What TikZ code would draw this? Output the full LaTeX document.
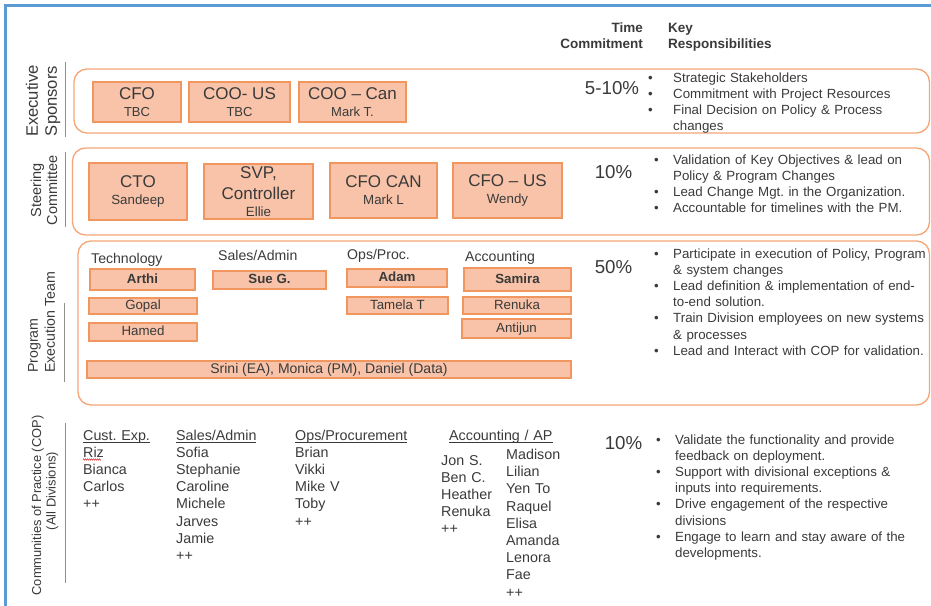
\documentclass[tikz,border=0pt]{standalone}
\usepackage{fontspec}
\setmainfont{Liberation Sans}
\usetikzlibrary{decorations.pathmorphing}

\definecolor{ink}{HTML}{3A3A3A}
\definecolor{framec}{HTML}{5B9BD5}
\definecolor{bandc}{HTML}{F4A677}
\definecolor{rolec}{HTML}{F29660}
\definecolor{rolefill}{HTML}{F8C3A8}
\definecolor{sepc}{HTML}{8E8E8E}
\definecolor{spellc}{HTML}{E23B3B}

\frenchspacing
\newcommand\fsz[2]{\fontsize{#1pt}{#2pt}\selectfont}
\newlength\bulind
\newcommand\bitem[1]{\hangindent=\bulind\hangafter=1\makebox[\bulind][l]{\textbullet}#1\par}
\newcommand\ulhead[1]{\setbox0=\hbox{#1}\rlap{\rule[-2.4pt]{\wd0}{0.8pt}}\box0}

\tikzset{
  band/.style={draw=bandc, line width=1.3pt, rounded corners=13pt},
  role/.style={draw=rolec, fill=rolefill, line width=1.1pt, text=ink,
    align=center, inner sep=0pt, font=\fsz{17}{17}},
  chip/.style={draw=rolec, fill=rolefill, line width=1.1pt, text=ink,
    inner sep=0pt, text height=10pt, text depth=3pt, font=\fsz{13.3}{16}},
  sidelbl/.style={rotate=90, text=ink, inner sep=0pt, align=center},
  sepline/.style={draw=sepc, line width=1pt},
  pct/.style={text=ink, font=\fsz{18.7}{20}, inner sep=0pt, anchor=base},
  hdr/.style={text=ink, font=\bfseries\fsz{13.5}{16}, inner sep=0pt,
    text width=120pt, align=#1},
  blist/.style={text=ink, font=\fsz{13.3}{16.2}, inner sep=0pt,
    text width=290pt, align=left, anchor=base west,
    execute at begin node={\setlength\bulind{#1}}},
  grp/.style={text=ink, font=\fsz{14.1}{17}, inner sep=0pt, anchor=base west},
  names/.style={text=ink, font=\fsz{14.3}{17.2}, inner sep=0pt, align=left,
    text width=110pt, anchor=base west},
}

\begin{document}
\begin{tikzpicture}[x=1pt, y=-1pt]
  \useasboundingbox (0,0) rectangle (931,605);
  \clip (0,0) rectangle (931,605);

  % outer frame
  \draw[framec, line width=2.4pt] (5.5,606) -- (5.5,5.5) -- (932,5.5);

  % column headings
  \node[hdr=right, anchor=base east] (hTime) at (643,32) {Time\\Commitment};
  \node[hdr=left, anchor=base west] (hKey) at (668,32) {Key\\Responsibilities};

  % tier bands
  \draw[band] (74,69) rectangle (929.5,133);
  \draw[band] (72.5,148) rectangle (929.5,235);
  \draw[band] (78,241) rectangle (929.5,405);

  % tier labels and separators
  \node[sidelbl, font=\fsz{16.6}{19}] (lExec) at (43,101) {Executive\\Sponsors};
  \draw[sepline] (65,62) -- (65,137);
  \node[sidelbl, font=\fsz{14.5}{16}] (lSteer) at (44,190) {Steering\\Committee};
  \draw[sepline] (65,152) -- (65,227);
  \node[sidelbl, align=left, anchor=west, font=\fsz{14.2}{17}] (lProg) at (41.5,373) {Program\\Execution Team};
  \draw[sepline] (64,303) -- (64,382);
  \node[sidelbl, anchor=base, font=\fsz{12.9}{14.5}] (lCop) at (41,505.5) {Communities of Practice (COP)};
  \node[sidelbl, anchor=base, font=\fsz{12.9}{14.5}] (lCopSub) at (55.5,491) {(All Divisions)};
  \draw[sepline] (65,423) -- (65,583);

  % executive sponsors
  \node[role, minimum width=88pt, minimum height=40pt] (cfo) at (137,102) {CFO\\{\fsz{13}{13}TBC}};
  \node[role, minimum width=101pt, minimum height=40pt] (cooUS) at (239.5,102) {COO- US\\{\fsz{13}{13}TBC}};
  \node[role, minimum width=107pt, minimum height=40pt] (cooCan) at (352.5,102) {COO – Can\\{\fsz{13}{13}Mark T.}};

  % steering committee
  \node[role, minimum width=98pt, minimum height=57pt] (cto) at (138,191.5) {CTO\\{\fsz{13.3}{13}Sandeep}};
  \node[role, minimum width=109pt, minimum height=55pt] (svp) at (258.5,191.5) {SVP,\\[4pt]Controller\\{\fsz{13.3}{13}Ellie}};
  \node[role, minimum width=107pt, minimum height=55pt] (cfoCan) at (383.5,190.5) {CFO CAN\\{\fsz{13.3}{13}Mark L}};
  \node[role, minimum width=109pt, minimum height=55pt] (cfoUS) at (507.5,190.5) {CFO – US\\{\fsz{13.3}{13}Wendy}};

  % program execution team
  \node[grp] (gTech) at (91,263) {Technology};
  \node[grp] (gSales) at (218,260) {Sales/Admin};
  \node[grp] (gOps) at (347,259.5) {Ops/Proc.};
  \node[grp] (gAcct) at (465,261.5) {Accounting};

  \node[chip, font=\bfseries\fsz{13.3}{16}, minimum width=105pt, minimum height=21pt] (arthi) at (142.5,279.5) {Arthi};
  \node[chip, font=\bfseries\fsz{13.3}{16}, minimum width=113pt, minimum height=18pt] (sue) at (269.5,280) {Sue G.};
  \node[chip, font=\bfseries\fsz{13.3}{16}, minimum width=100pt, minimum height=18pt] (adam) at (397,278) {Adam};
  \node[chip, font=\bfseries\fsz{13.3}{16}, minimum width=107pt, minimum height=23pt] (samira) at (517.5,279.5) {Samira};
  \node[chip, minimum width=108pt, minimum height=16pt] (gopal) at (143,306) {Gopal};
  \node[chip, minimum width=101pt, minimum height=17pt] (tamela) at (397.5,305.5) {Tamela T};
  \node[chip, minimum width=108pt, minimum height=17pt] (renuka) at (517,305.5) {Renuka};
  \node[chip, minimum width=108pt, minimum height=18pt] (hamed) at (143,332) {Hamed};
  \node[chip, minimum width=109pt, minimum height=19pt] (antijun) at (516.5,328.5) {Antijun};
  \node[chip, font=\fsz{14}{16}, minimum width=484pt, minimum height=17pt] (shared) at (329,369.5) {Srini (EA), Monica (PM), Daniel (Data)};

  % communities of practice
  \node[names] (cCust) at (83,440) {\ulhead{Cust. Exp.}\\Riz\\Bianca\\Carlos\\++};
  \node[names] (cSales) at (176,440) {\ulhead{Sales/Admin}\\Sofia\\Stephanie\\Caroline\\Michele\\Jarves\\Jamie\\++};
  \node[names] (cOps) at (295,440) {\ulhead{Ops/Procurement}\\Brian\\Vikki\\Mike V\\Toby\\++};
  \node[names] (cAcct) at (449,440) {\ulhead{Accounting / AP}};
  \node[names, text width=60pt] (cAcctA) at (441,465) {Jon S.\\Ben C.\\Heather\\Renuka\\++};
  \node[names, text width=70pt] (cAcctB) at (506,459.5) {Madison\\Lilian\\Yen To\\Raquel\\Elisa\\Amanda\\Lenora\\Fae\\++};
  \draw[spellc, line width=0.6pt, decorate,
        decoration={zigzag, segment length=2pt, amplitude=0.6pt}]
        (83,459.5) -- (101,459.5);

  % time commitment
  \node[pct] (pExec) at (612,94) {5-10\%};
  \node[pct] (pSteer) at (613.5,178.7) {10\%};
  \node[pct] (pProg) at (613.5,273.7) {50\%};
  \node[pct] (pCop) at (623.5,449.7) {10\%};

  % key responsibilities
  \node[blist=25pt] (rExec) at (648,82) {%
    \bitem{Strategic Stakeholders}%
    \bitem{Commitment with Project Resources}%
    \bitem{Final Decision on Policy \& Process\newline changes}};
  \node[blist=19pt] (rSteer) at (654,164) {%
    \bitem{Validation of Key Objectives \& lead on\newline Policy \& Program Changes}%
    \bitem{Lead Change Mgt. in the Organization.}%
    \bitem{Accountable for timelines with the PM.}};
  \node[blist=19pt] (rProg) at (654,258) {%
    \bitem{Participate in execution of Policy, Program\newline \& system changes}%
    \bitem{Lead definition \& implementation of end-\newline to-end solution.}%
    \bitem{Train Division employees on new systems\newline \& processes}%
    \bitem{Lead and Interact with COP for validation.}};
  \node[blist=19pt] (rCop) at (656,444) {%
    \bitem{Validate the functionality and provide\newline feedback on deployment.}%
    \bitem{Support with divisional exceptions \&\newline inputs into requirements.}%
    \bitem{Drive engagement of the respective\newline divisions}%
    \bitem{Engage to learn and stay aware of the\newline developments.}};
\end{tikzpicture}
\end{document}
